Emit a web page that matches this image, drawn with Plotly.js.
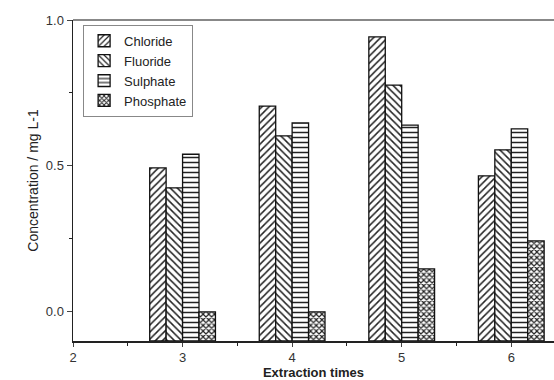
<!DOCTYPE html>
<html><head><meta charset="utf-8">
<script src="https://cdn.plot.ly/plotly-3.0.1.min.js"></script>
<style>body{margin:0;background:#fff}#c{width:554px;height:380px}</style>
</head><body><div id="c"></div>
<script>
const xTimes = [3, 4, 5, 6];
const chloride = [0.493, 0.705, 0.942, 0.466];
const fluoride = [0.425, 0.603, 0.777, 0.555];
const sulphate = [0.540, 0.647, 0.640, 0.627];
const phosphate = [0.0, 0.0, 0.147, 0.243];
const seriesNames = ['Chloride', 'Fluoride', 'Sulphate', 'Phosphate'];
const seriesVals = [chloride, fluoride, sulphate, phosphate];
const shapes = ['/', '\\', '-', 'x'];
const base = -0.1;

const traces = seriesVals.map((vals, i) => ({
  type: 'bar',
  name: seriesNames[i],
  x: xTimes,
  y: vals.map(v => v - base),
  base: base,
  marker: {
    color: '#ffffff',
    line: {color: '#111', width: 1.3},
    pattern: {shape: shapes[i], fgcolor: '#222', bgcolor: '#fff', size: i === 3 ? 4 : 5, solidity: i === 3 ? 0.5 : 0.3}
  }
}));

Plotly.newPlot('c', traces, {
  width: 554, height: 380,
  margin: {l: 73, r: 0, t: 20, b: 39},
  barmode: 'group', bargap: 0.4, bargroupgap: 0,
  paper_bgcolor: '#fff', plot_bgcolor: '#fff',
  font: {family: 'Liberation Sans, Arial, sans-serif', color: '#333'},
  xaxis: {
    range: [2, 6.39], tickvals: [2, 3, 4, 5, 6], ticks: 'outside', ticklen: 4,
    showline: true, linecolor: '#222', linewidth: 1.5, mirror: false, showgrid: false, zeroline: false,
    minor: {dtick: 0.5, ticks: 'outside', ticklen: 3, tickcolor: '#222'},
    tickfont: {size: 13, color: '#333'},
    title: {text: 'Extraction times', font: {size: 13, color: '#222', weight: 'bold'}, standoff: 5}
  },
  yaxis: {
    range: [-0.1, 1.0], tickvals: [0, 0.5, 1.0], ticktext: ['0.0', '0.5', '1.0'], ticks: 'outside', ticklen: 5,
    showline: true, linecolor: '#222', linewidth: 1.5, showgrid: false, zeroline: false,
    minor: {tickvals: [0.25, 0.75], ticks: 'outside', ticklen: 3, tickcolor: '#222'},
    tickfont: {size: 13, color: '#333'},
    title: {text: 'Concentration / mg L-1', font: {size: 14, color: '#222'}, standoff: 4}
  },
  shapes: [{type: 'line', xref: 'paper', yref: 'paper', x0: 0, x1: 1, y0: 1, y1: 1, line: {color: '#888', width: 2}}],
  legend: {
    x: 0.021, y: 0.985, xanchor: 'left', yanchor: 'top',
    bordercolor: '#888', borderwidth: 1, bgcolor: '#fff',
    font: {size: 13, color: '#222'}, tracegroupgap: 0, itemwidth: 30, traceorder: 'normal'
  },
  showlegend: true
}, {displayModeBar: false, staticPlot: true});
</script></body></html>
